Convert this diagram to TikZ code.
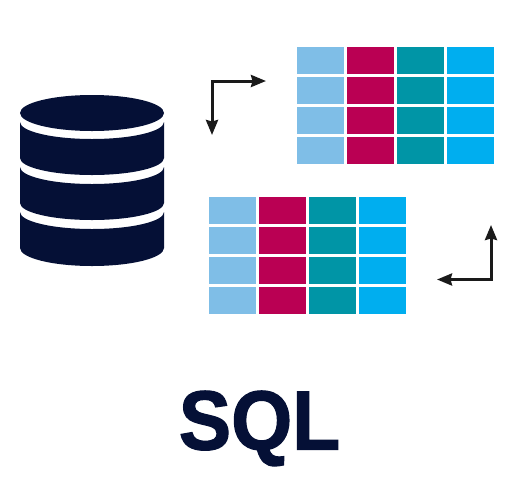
\documentclass[tikz,border=0pt]{standalone}
\usepackage{fontspec}
\setmainfont{Liberation Sans}
\newfontfamily\sqlfont[BoldFont={Liberation Sans Bold},BoldFeatures={FakeBold=1.5}]{Liberation Sans}
\usetikzlibrary{arrows.meta}
\definecolor{navy}{HTML}{051036}
\definecolor{cellA}{HTML}{7FBEE7}
\definecolor{cellB}{HTML}{BA0053}
\definecolor{cellC}{HTML}{0095A6}
\definecolor{cellD}{HTML}{00AEEF}
\definecolor{arrowk}{HTML}{1A1A1A}
\tikzset{
  cell/.style={draw=none,inner sep=0pt,outer sep=0pt,minimum width=47.3pt,minimum height=27pt},
  elbow/.style={draw=arrowk,line width=3pt,{Stealth[length=15pt,width=12pt,inset=1.5pt]}-{Stealth[length=15pt,width=12pt,inset=1.5pt]}},
  disk/.style={fill=navy,draw=none}
}
\newcommand{\celltable}[3]{%
  \foreach \c [count=\i from 0] in {cellA,cellB,cellC,cellD}
    \foreach \r in {0,1,2,3}
      \node[cell,fill=\c,anchor=north west] (#1-\i-\r) at ({#2+\i*50},{#3+\r*30}) {};
}
\newcommand{\disksection}[3]{%
  \fill[disk] (20,#1) arc[start angle=180,end angle=0,x radius=72,y radius=17]
    -- (164,#2) arc[start angle=0,end angle=180,x radius=72,y radius=#3] -- cycle;
}
\begin{document}
\begin{tikzpicture}[x=1pt,y=-1pt]
\useasboundingbox (0,0) rectangle (516,480);
% database
\disksection{122}{158}{17}
\disksection{167}{203}{17}
\disksection{212}{248}{18}
\fill[disk] (92,113) ellipse [x radius=72, y radius=18];
% tables
\celltable{t}{297}{47}
\celltable{b}{209}{197}
% arrows
\coordinate (a1) at (212,135);
\coordinate (a2) at (212,81);
\coordinate (a3) at (266,81);
\draw[elbow] (a1) -- (a2) -- (a3);
\coordinate (b1) at (437,279.5);
\coordinate (b2) at (491,279.5);
\coordinate (b3) at (491,225);
\draw[elbow] (b1) -- (b2) -- (b3);
% label
\node[text=navy,font=\sqlfont\bfseries\fontsize{84}{84}\selectfont,inner sep=0pt,anchor=base,xscale=0.935] (sql) at (259.5,449.5) {SQL};
\end{tikzpicture}
\end{document}
